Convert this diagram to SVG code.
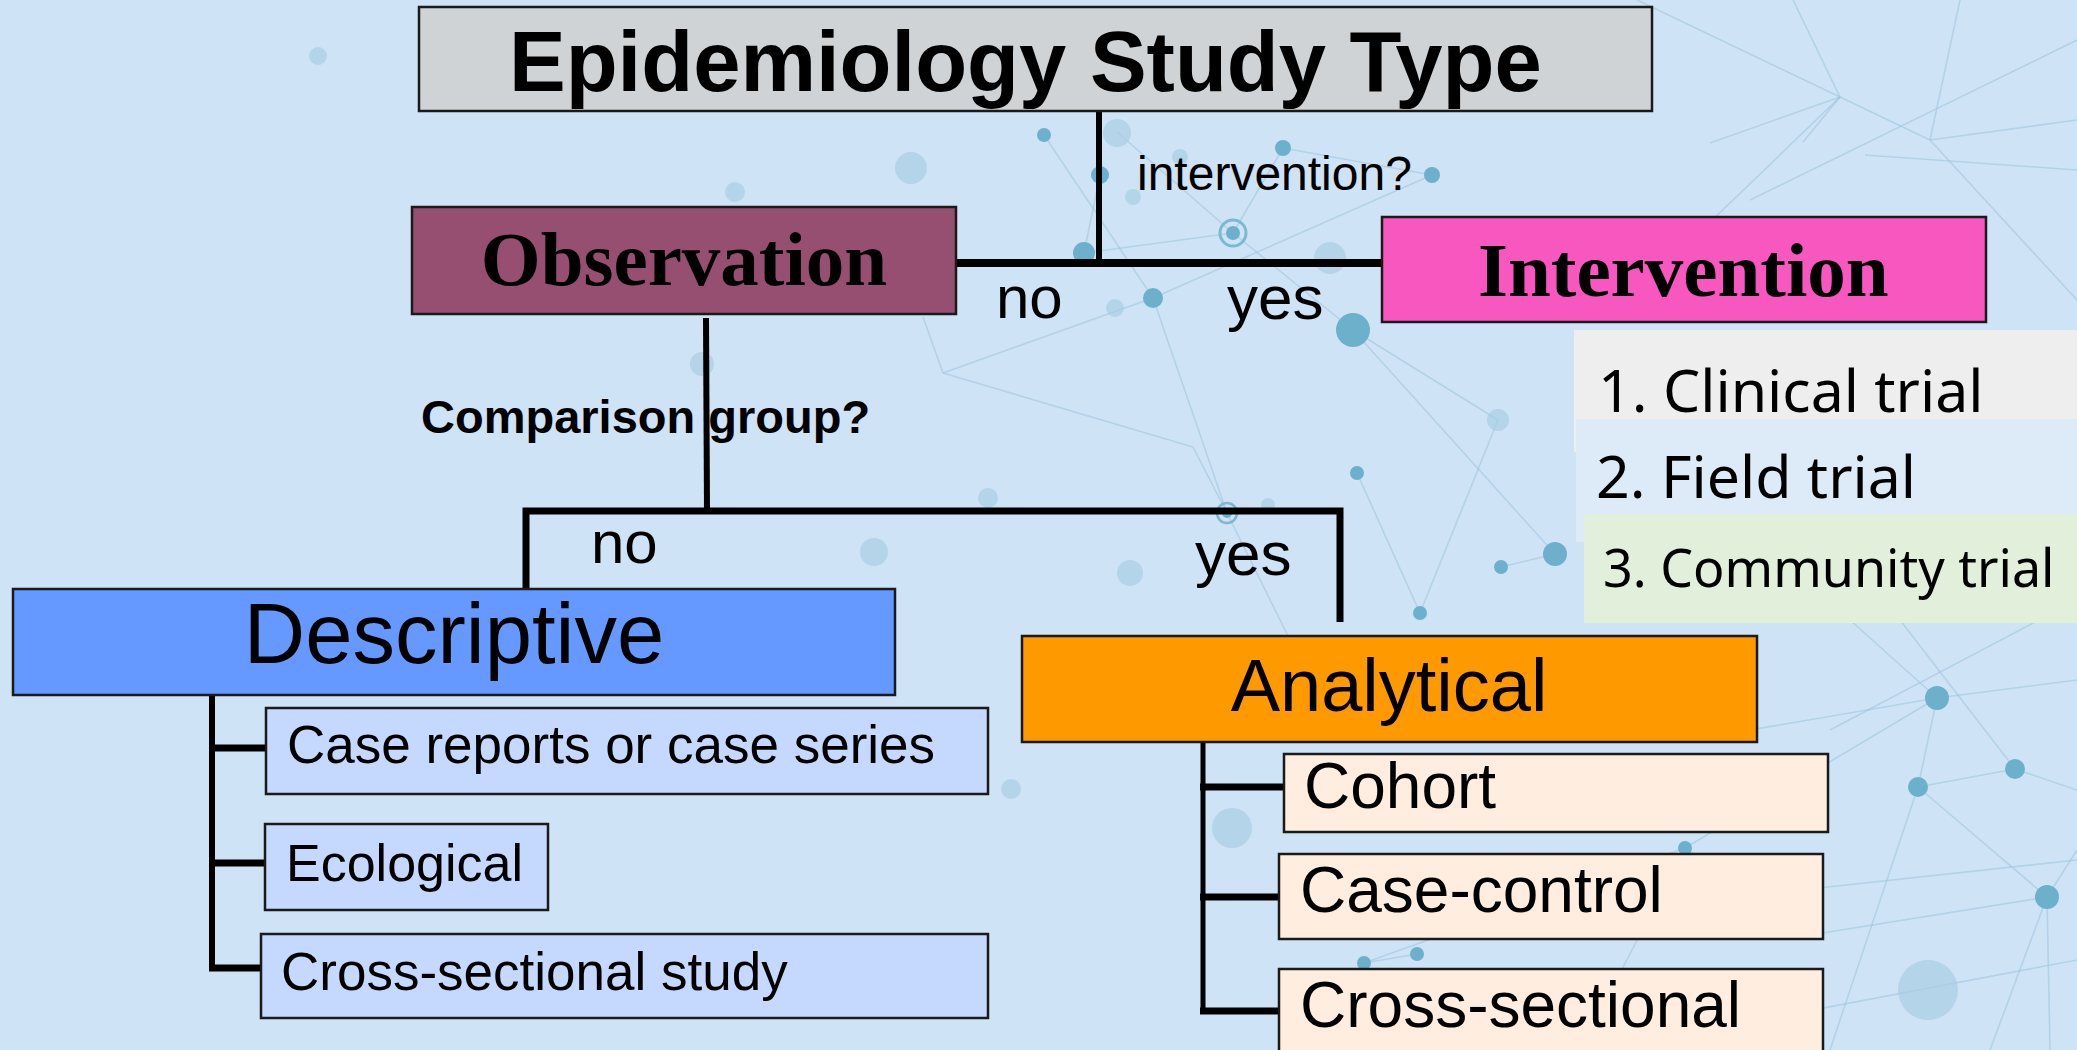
<svg xmlns="http://www.w3.org/2000/svg" width="2077" height="1050" viewBox="0 0 2077 1050">
<style>
.net line{stroke:#9CC5DB;stroke-width:1.6;opacity:0.55}
.dot{fill:#6CB0CC}
.fdot{fill:#A8CDE2;opacity:0.7}
.box{stroke:#1a1a1a;stroke-width:2.5}
.conn{stroke:#000;fill:none;stroke-linecap:butt}
.sans{font-family:"Liberation Sans",Arial,sans-serif;fill:#000}
.serifb{font-family:"Liberation Serif","Times New Roman",serif;font-weight:bold;fill:#000}
.list{font-family:"Noto Sans","Open Sans",sans-serif;fill:#000}
</style>
<rect width="2077" height="1050" fill="#CFE3F7"/>
<g id="background" class="net">
<line x1="1044" y1="135" x2="1153" y2="298"/>
<line x1="1117" y1="132" x2="1233" y2="233"/>
<line x1="1283" y1="148" x2="1233" y2="233"/>
<line x1="1283" y1="148" x2="1432" y2="175"/>
<line x1="1233" y1="233" x2="1353" y2="330"/>
<line x1="1100" y1="175" x2="1084" y2="253"/>
<line x1="1084" y1="253" x2="1233" y2="233"/>
<line x1="1153" y1="298" x2="1432" y2="175"/>
<line x1="943" y1="373" x2="1153" y2="298"/>
<line x1="943" y1="373" x2="1193" y2="447"/>
<line x1="943" y1="373" x2="923" y2="317"/>
<line x1="1153" y1="298" x2="1227" y2="513"/>
<line x1="1193" y1="447" x2="1227" y2="513"/>
<line x1="1353" y1="330" x2="1555" y2="554"/>
<line x1="1353" y1="330" x2="1498" y2="420"/>
<line x1="1498" y1="420" x2="1420" y2="613"/>
<line x1="1555" y1="554" x2="1501" y2="567"/>
<line x1="1420" y1="613" x2="1357" y2="473"/>
<line x1="1227" y1="513" x2="1290" y2="640"/>
<line x1="1840" y1="97" x2="1637" y2="0"/>
<line x1="1840" y1="97" x2="1793" y2="0"/>
<line x1="1840" y1="97" x2="1710" y2="143"/>
<line x1="1840" y1="97" x2="1803" y2="142"/>
<line x1="1840" y1="97" x2="1930" y2="140"/>
<line x1="1840" y1="97" x2="1650" y2="280"/>
<line x1="1930" y1="140" x2="2077" y2="120"/>
<line x1="1930" y1="140" x2="2077" y2="300"/>
<line x1="1930" y1="140" x2="1960" y2="0"/>
<line x1="1865" y1="155" x2="2077" y2="170"/>
<line x1="1750" y1="200" x2="2077" y2="40"/>
<line x1="1937" y1="698" x2="1750" y2="730"/>
<line x1="1937" y1="698" x2="2077" y2="680"/>
<line x1="1937" y1="698" x2="1918" y2="787"/>
<line x1="1937" y1="698" x2="1850" y2="620"/>
<line x1="2015" y1="769" x2="1918" y2="787"/>
<line x1="2015" y1="769" x2="2077" y2="790"/>
<line x1="2015" y1="769" x2="1900" y2="620"/>
<line x1="1918" y1="787" x2="2047" y2="897"/>
<line x1="1918" y1="787" x2="1830" y2="1050"/>
<line x1="2047" y1="897" x2="2077" y2="850"/>
<line x1="2047" y1="897" x2="1990" y2="1050"/>
<line x1="2047" y1="897" x2="2050" y2="1050"/>
<line x1="2047" y1="897" x2="1810" y2="935"/>
<line x1="1685" y1="848" x2="1937" y2="698"/>
<line x1="1685" y1="848" x2="1580" y2="1050"/>
<line x1="1685" y1="848" x2="1810" y2="935"/>
<line x1="1800" y1="890" x2="2077" y2="860"/>
<line x1="1364" y1="963" x2="1417" y2="954"/>
<line x1="1364" y1="963" x2="1685" y2="848"/>
<line x1="1830" y1="730" x2="2077" y2="600"/>
<line x1="1760" y1="1020" x2="2077" y2="960"/>
</g>
<g id="dots">
<circle class="fdot" cx="318" cy="56" r="9"/>
<circle class="fdot" cx="735" cy="192" r="10"/>
<circle class="fdot" cx="702" cy="364" r="12"/>
<circle class="fdot" cx="911" cy="168" r="16"/>
<circle class="fdot" cx="1117" cy="133" r="14"/>
<circle class="fdot" cx="1180" cy="157" r="8"/>
<circle class="fdot" cx="1133" cy="197" r="8"/>
<circle class="fdot" cx="1115" cy="308" r="9"/>
<circle class="fdot" cx="1330" cy="258" r="16"/>
<circle class="fdot" cx="988" cy="498" r="10"/>
<circle class="fdot" cx="1268" cy="505" r="7"/>
<circle class="fdot" cx="1130" cy="573" r="13"/>
<circle class="fdot" cx="874" cy="552" r="14"/>
<circle class="fdot" cx="1498" cy="420" r="11"/>
<circle class="fdot" cx="1011" cy="789" r="10"/>
<circle class="fdot" cx="1232" cy="828" r="20"/>
<circle class="fdot" cx="1928" cy="990" r="30"/>
<circle class="dot" cx="1044" cy="135" r="7"/>
<circle class="dot" cx="1283" cy="148" r="8"/>
<circle class="dot" cx="1432" cy="175" r="8"/>
<circle class="dot" cx="1100" cy="175" r="9"/>
<circle class="dot" cx="1084" cy="253" r="11"/>
<circle class="dot" cx="1153" cy="298" r="10"/>
<circle class="dot" cx="1353" cy="330" r="17"/>
<circle class="dot" cx="1357" cy="473" r="7"/>
<circle class="dot" cx="1555" cy="554" r="12"/>
<circle class="dot" cx="1501" cy="567" r="7"/>
<circle class="dot" cx="1420" cy="613" r="7"/>
<circle class="dot" cx="1937" cy="698" r="12"/>
<circle class="dot" cx="2015" cy="769" r="10"/>
<circle class="dot" cx="1918" cy="787" r="10"/>
<circle class="dot" cx="2047" cy="897" r="12"/>
<circle class="dot" cx="1685" cy="848" r="7"/>
<circle class="dot" cx="1364" cy="963" r="7"/>
<circle class="dot" cx="1417" cy="954" r="7"/>
<circle cx="1233" cy="233" r="13" fill="none" stroke="#7DB8D1" stroke-width="3"/>
<circle class="dot" cx="1233" cy="233" r="7"/>
<circle cx="1227" cy="513" r="10" fill="none" stroke="#7DB8D1" stroke-width="2.5"/>
<circle class="dot" cx="1227" cy="513" r="5"/>
</g>
<g id="connectors" class="conn">
<line x1="1099" y1="111" x2="1099" y2="266" stroke-width="6"/>
<line x1="956" y1="263" x2="1382" y2="263" stroke-width="8"/>
<line x1="706" y1="318" x2="707" y2="510" stroke-width="6"/>
<polyline points="526,588 526,511 1340,511 1340,622" stroke-width="7"/>
<line x1="212" y1="695" x2="212" y2="971" stroke-width="6"/>
<line x1="209" y1="748" x2="266" y2="748" stroke-width="7"/>
<line x1="209" y1="863" x2="265" y2="863" stroke-width="7"/>
<line x1="209" y1="968" x2="261" y2="968" stroke-width="7"/>
<line x1="1203" y1="742" x2="1203" y2="1010" stroke-width="5"/>
<line x1="1200" y1="787" x2="1283" y2="787" stroke-width="7"/>
<line x1="1200" y1="897" x2="1279" y2="897" stroke-width="7"/>
<line x1="1200" y1="1011" x2="1279" y2="1011" stroke-width="7"/>
</g>
<g id="labels" class="sans">
<text x="1137" y="190" font-size="48">intervention?</text>
<text x="996" y="318" font-size="60">no</text>
<text x="1227" y="319" font-size="62">yes</text>
<text x="421" y="433" font-size="47" font-weight="bold">Comparison group?</text>
<text x="591" y="563" font-size="60">no</text>
<text x="1195" y="575" font-size="62">yes</text>
</g>
<g id="title">
<rect class="box" x="419" y="7" width="1233" height="104" fill="#CFD3D5" stroke-width="3"/>
<text class="sans" x="509" y="91" font-size="85" font-weight="bold">Epidemiology Study Type</text>
</g>
<g id="observation">
<rect class="box" x="412" y="207" width="544" height="107" fill="#964F71"/>
<text class="serifb" x="684" y="285" font-size="77" text-anchor="middle">Observation</text>
</g>
<g id="intervention">
<rect class="box" x="1382" y="217" width="604" height="105" fill="#F757BF"/>
<text class="serifb" x="1478" y="296" font-size="77">Intervention</text>
</g>
<g id="intervention-list">
<rect x="1574" y="330" width="503" height="122" fill="#EEEEEE"/>
<rect x="1576" y="419" width="501" height="123" fill="#DDEAF7"/>
<rect x="1584" y="514" width="493" height="109" fill="#E2EFDA"/>
<text class="list" x="1598" y="412" font-size="59">1. Clinical trial</text>
<text class="list" x="1596" y="498" font-size="59">2. Field trial</text>
<text class="list" x="1603" y="587" font-size="52">3. Community trial</text>
</g>
<g id="descriptive">
<rect class="box" x="13" y="589" width="882" height="106" fill="#6699FF"/>
<text class="sans" x="454" y="663" font-size="85" text-anchor="middle">Descriptive</text>
</g>
<g id="case-reports">
<rect class="box" x="266" y="708" width="722" height="86" fill="#C5D8FE" stroke-width="2"/>
<text class="sans" x="287" y="763" font-size="53">Case reports or case series</text>
</g>
<g id="ecological">
<rect class="box" x="265" y="824" width="283" height="86" fill="#C5D8FE" stroke-width="2"/>
<text class="sans" x="286" y="881" font-size="52">Ecological</text>
</g>
<g id="cross-sectional-study">
<rect class="box" x="261" y="934" width="727" height="84" fill="#C5D8FE" stroke-width="2"/>
<text class="sans" x="281" y="990" font-size="53">Cross-sectional study</text>
</g>
<g id="analytical">
<rect class="box" x="1022" y="636" width="735" height="106" fill="#FF9900"/>
<text class="sans" x="1389" y="711" font-size="74" text-anchor="middle">Analytical</text>
</g>
<g id="cohort">
<rect class="box" x="1284" y="754" width="544" height="78" fill="#FFEEDF"/>
<text class="sans" x="1304" y="808" font-size="64">Cohort</text>
</g>
<g id="case-control">
<rect class="box" x="1279" y="854" width="544" height="85" fill="#FFEEDF"/>
<text class="sans" x="1300" y="912" font-size="64">Case-control</text>
</g>
<g id="cross-sectional">
<rect class="box" x="1279" y="969" width="544" height="100" fill="#FFEEDF"/>
<text class="sans" x="1300" y="1027" font-size="64">Cross-sectional</text>
</g>
</svg>
